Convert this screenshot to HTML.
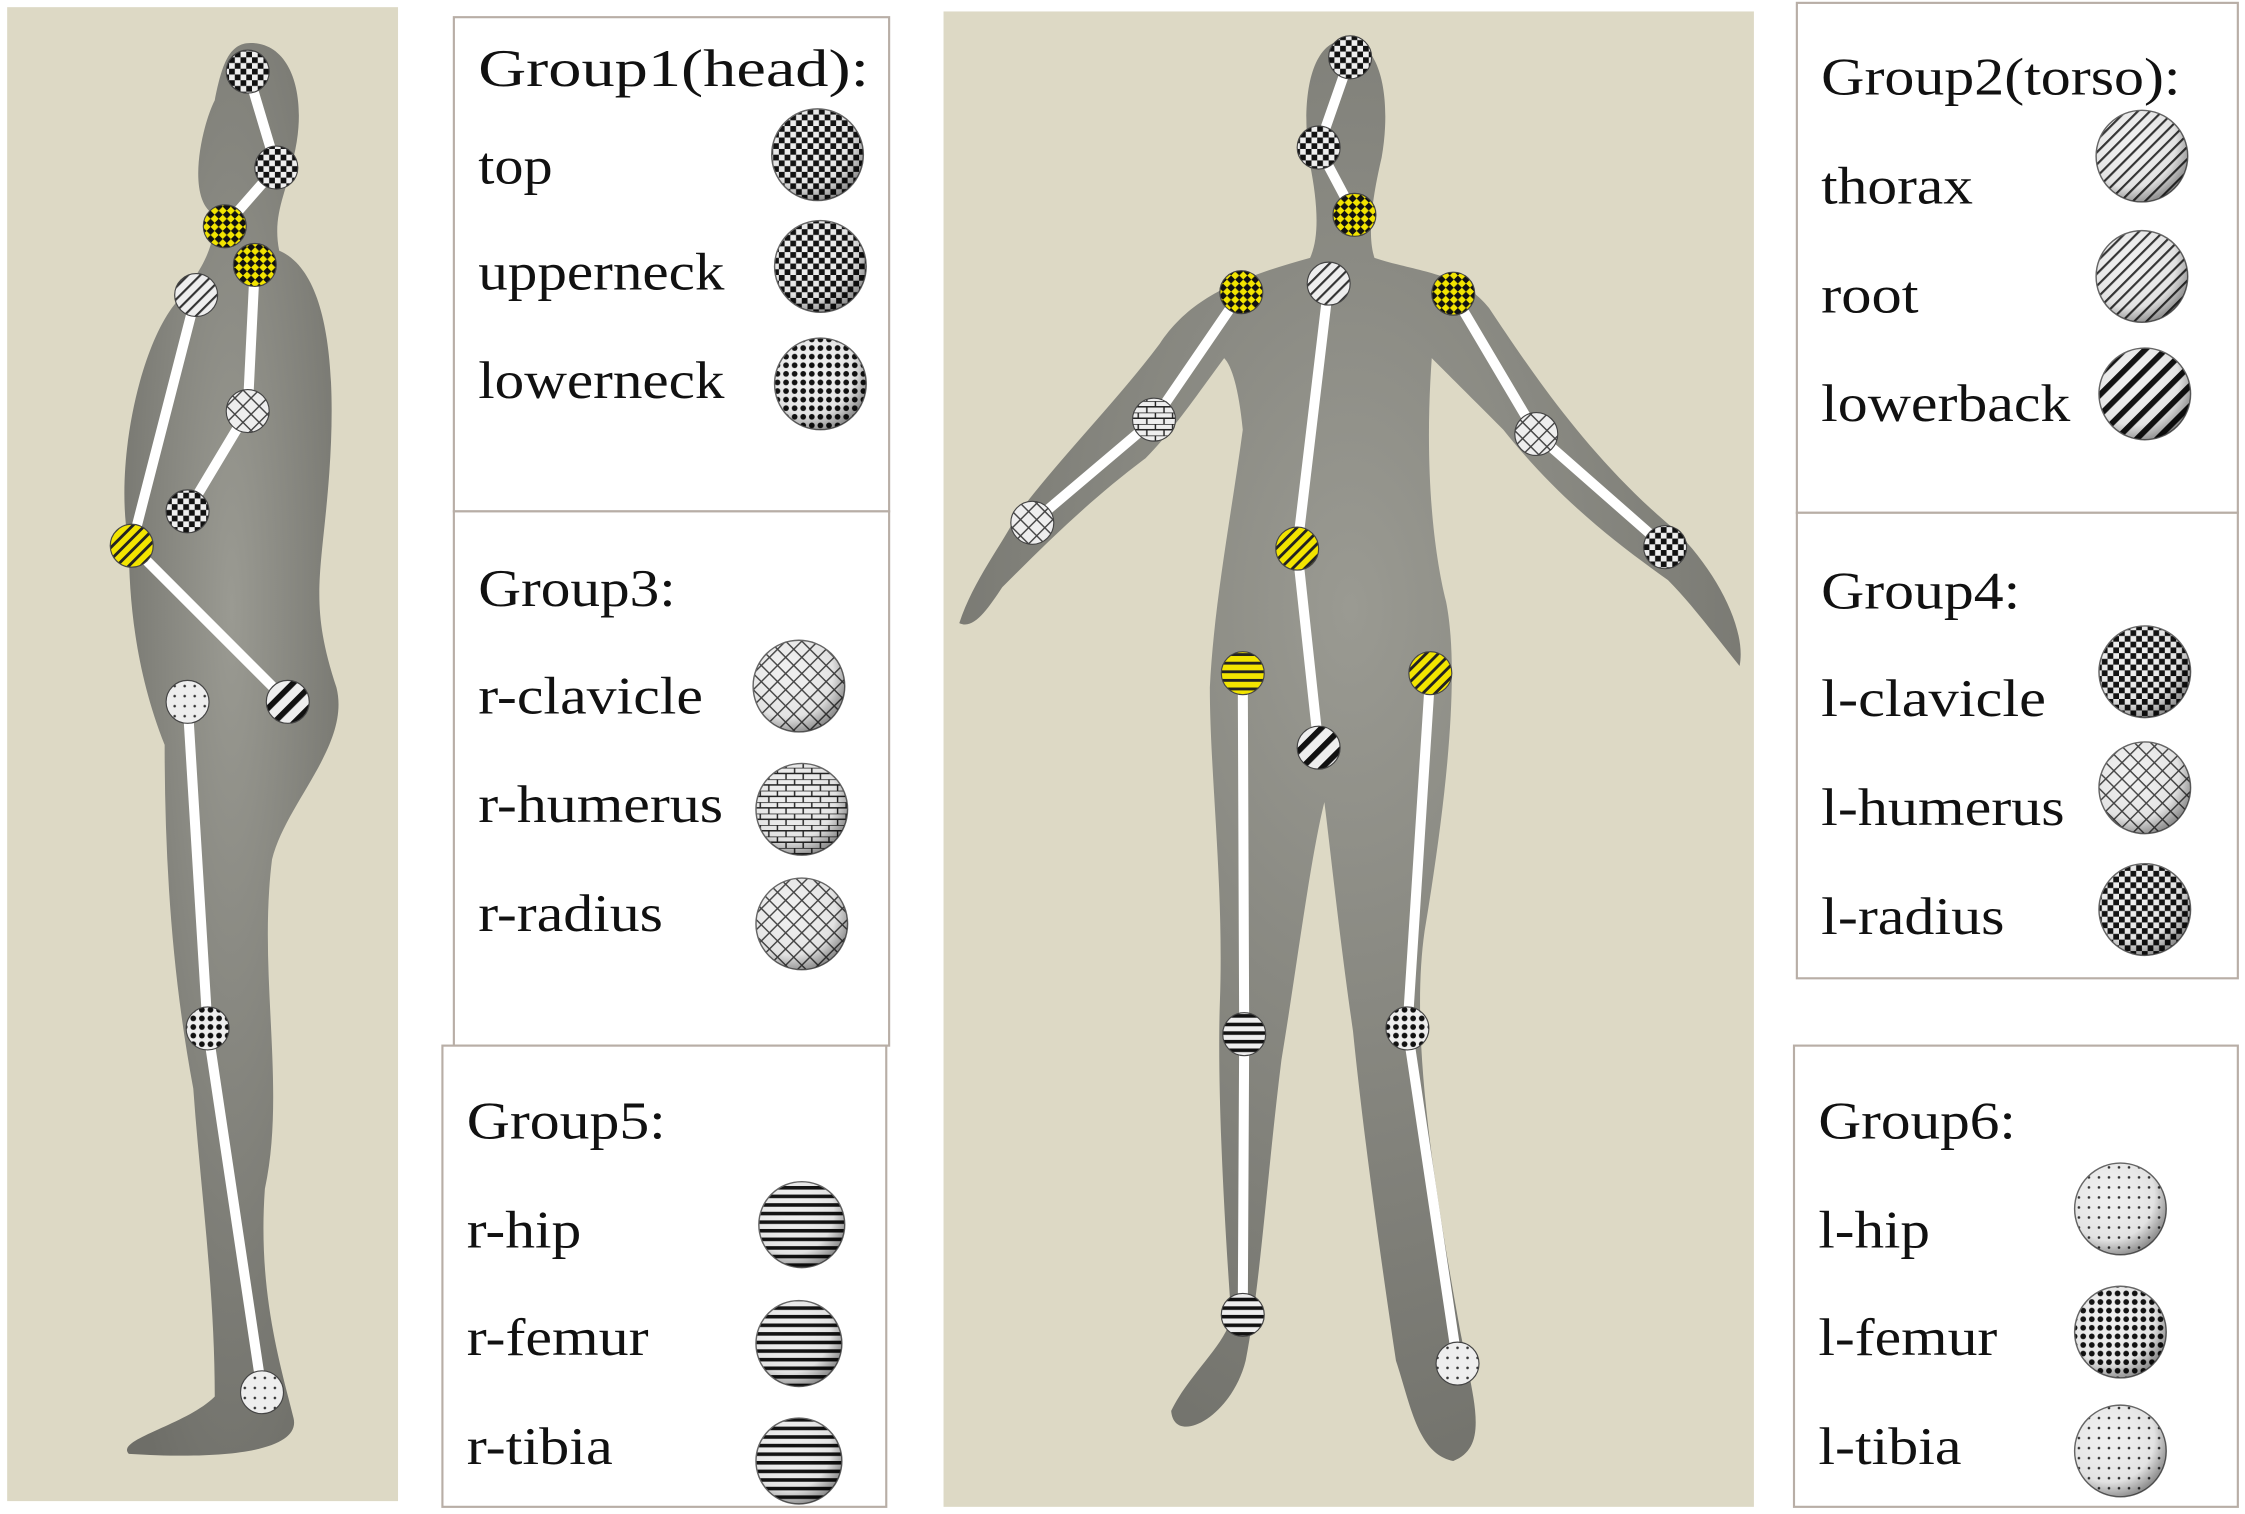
<!DOCTYPE html>
<html><head><meta charset="utf-8"><style>
html,body{margin:0;padding:0;background:#fff;}
svg{display:block}
text{font-family:"Liberation Serif",serif;fill:#111}
</style></head><body>
<svg width="2245" height="1514" viewBox="0 0 1568 1057" preserveAspectRatio="none">
<defs>
<radialGradient id="shade" cx="0.38" cy="0.35" r="0.7"><stop offset="0" stop-color="#fff" stop-opacity="0"/><stop offset="0.7" stop-color="#000" stop-opacity="0.05"/><stop offset="1" stop-color="#000" stop-opacity="0.45"/></radialGradient>
<radialGradient id="bodyg" cx="0.5" cy="0.4" r="0.7"><stop offset="0" stop-color="#9a9a92"/><stop offset="1" stop-color="#6e6e68"/></radialGradient>
<pattern id="p-dots" width="6" height="6" patternUnits="userSpaceOnUse"><rect width="6" height="6" fill="#eee"/><circle cx="3" cy="3" r="2" fill="#111"/></pattern>
<pattern id="p-check" width="8" height="8" patternUnits="userSpaceOnUse"><rect width="8" height="8" fill="#eee"/><rect width="4" height="4" fill="#111"/><rect x="4" y="4" width="4" height="4" fill="#111"/></pattern>
<pattern id="p-diag" width="6" height="6" patternUnits="userSpaceOnUse" patternTransform="rotate(45)"><rect width="6" height="6" fill="#eee"/><rect width="1.5" height="6" fill="#333"/></pattern>
<pattern id="p-diagw" width="10" height="10" patternUnits="userSpaceOnUse" patternTransform="rotate(45)"><rect width="10" height="10" fill="#eee"/><rect width="4" height="10" fill="#111"/></pattern>
<pattern id="p-horiz" width="6" height="6" patternUnits="userSpaceOnUse"><rect width="6" height="6" fill="#eee"/><rect width="6" height="2.5" fill="#111"/></pattern>
<pattern id="p-grid" width="8" height="8" patternUnits="userSpaceOnUse" patternTransform="rotate(45)"><rect width="8" height="8" fill="#eee"/><rect width="1" height="8" fill="#444"/><rect width="8" height="1" fill="#444"/></pattern>
<pattern id="p-brick" width="12" height="8" patternUnits="userSpaceOnUse"><rect width="12" height="8" fill="#eee"/><path d="M0 0H12M0 4H12M3 0V4M9 4V8" stroke="#222" stroke-width="1"/></pattern>
<pattern id="p-sparse" width="7" height="7" patternUnits="userSpaceOnUse"><rect width="7" height="7" fill="#eee"/><circle cx="3" cy="3" r="0.9" fill="#333"/></pattern>
<pattern id="p-ydiag" width="6" height="6" patternUnits="userSpaceOnUse" patternTransform="rotate(45)"><rect width="6" height="6" fill="#f2e400"/><rect width="2" height="6" fill="#222"/></pattern>
<pattern id="p-ycheck" width="8" height="8" patternUnits="userSpaceOnUse" patternTransform="rotate(45)"><rect width="8" height="8" fill="#f2e400"/><rect width="4" height="4" fill="#111"/><rect x="4" y="4" width="4" height="4" fill="#111"/></pattern>
<pattern id="p-yhoriz" width="6" height="6" patternUnits="userSpaceOnUse"><rect width="6" height="6" fill="#f2e400"/><rect width="6" height="2" fill="#222"/></pattern>
</defs>
<rect width="1568" height="1057" fill="#fff"/>

<g>
<rect x="5" y="5" width="273" height="1043" fill="#ddd9c5"/>
<path d="M175 30 C205 30 215 70 205 110 C200 135 190 150 195 175 C230 190 235 260 230 330 C225 400 215 420 235 480 C245 520 200 560 190 600 C180 680 200 760 185 830 C180 900 195 950 205 990 C210 1010 170 1020 90 1015 C80 1005 130 995 150 975 C150 900 140 830 135 760 C120 680 115 600 115 520 C95 470 90 420 90 380 C80 330 95 250 120 215 C140 190 150 175 150 150 C130 140 140 90 150 70 C155 45 160 30 175 30Z" fill="url(#bodyg)"/>
</g>

<g>
<rect x="659" y="8" width="566" height="1044" fill="#ddd9c5"/>
<path d="M940 28 C965 28 972 70 965 110 C958 140 955 165 960 180 C990 190 1020 190 1040 215 C1070 260 1110 320 1170 370 C1200 400 1220 440 1215 465 C1195 440 1180 420 1165 405 C1130 380 1090 350 1050 300 C1030 280 1010 260 1000 250 C995 320 1000 380 1010 420 C1020 470 1010 560 995 650 C985 720 1000 820 1020 930 C1030 980 1040 1010 1015 1020 C990 1015 985 980 975 950 C960 850 950 770 945 720 C935 650 930 600 925 560 C915 600 905 680 895 740 C885 820 880 900 870 950 C860 990 820 1010 818 985 C830 960 855 940 860 920 C855 850 850 760 852 700 C855 620 845 540 845 480 C848 420 860 360 868 300 C865 270 860 255 855 250 C840 270 820 300 800 320 C760 350 730 380 700 410 C690 425 680 440 670 435 C680 405 700 380 710 360 C740 320 780 280 810 240 C830 210 860 195 915 180 C922 165 920 140 915 115 C908 70 915 28 940 28Z" fill="url(#bodyg)"/>
</g>

<g stroke="#fff" stroke-width="7" fill="none" stroke-linecap="round" stroke-linejoin="round">
<polyline points="173,50 193,117 157,158"/>
<polyline points="178,185 173,287 131,357"/>
<polyline points="137,206 92,381 201,490"/>
<polyline points="131,490 145,718 183,972"/>
<polyline points="943,40 921,103 946,150"/>
<polyline points="928,198 906,383 921,522"/>
<polyline points="867,204 806,293 721,365"/>
<polyline points="1015,205 1073,303 1163,382"/>
<polyline points="868,470 869,722 868,918"/>
<polyline points="999,470 983,718 1018,952"/>
</g>

<g stroke="#444" stroke-width="0.8">
<circle cx="173" cy="50" r="15" fill="url(#p-check)"/>
<circle cx="193" cy="117" r="15" fill="url(#p-check)"/>
<circle cx="157" cy="158" r="15" fill="url(#p-ycheck)"/>
<circle cx="178" cy="185" r="15" fill="url(#p-ycheck)"/>
<circle cx="137" cy="206" r="15" fill="url(#p-diag)"/>
<circle cx="173" cy="287" r="15" fill="url(#p-grid)"/>
<circle cx="131" cy="357" r="15" fill="url(#p-check)"/>
<circle cx="92" cy="381" r="15" fill="url(#p-ydiag)"/>
<circle cx="201" cy="490" r="15" fill="url(#p-diagw)"/>
<circle cx="131" cy="490" r="15" fill="url(#p-sparse)"/>
<circle cx="145" cy="718" r="15" fill="url(#p-dots)"/>
<circle cx="183" cy="972" r="15" fill="url(#p-sparse)"/>
<circle cx="943" cy="40" r="15" fill="url(#p-check)"/>
<circle cx="921" cy="103" r="15" fill="url(#p-check)"/>
<circle cx="946" cy="150" r="15" fill="url(#p-ycheck)"/>
<circle cx="928" cy="198" r="15" fill="url(#p-diag)"/>
<circle cx="867" cy="204" r="15" fill="url(#p-ycheck)"/>
<circle cx="806" cy="293" r="15" fill="url(#p-brick)"/>
<circle cx="721" cy="365" r="15" fill="url(#p-grid)"/>
<circle cx="1015" cy="205" r="15" fill="url(#p-ycheck)"/>
<circle cx="1073" cy="303" r="15" fill="url(#p-grid)"/>
<circle cx="1163" cy="382" r="15" fill="url(#p-check)"/>
<circle cx="906" cy="383" r="15" fill="url(#p-ydiag)"/>
<circle cx="868" cy="470" r="15" fill="url(#p-yhoriz)"/>
<circle cx="921" cy="522" r="15" fill="url(#p-diagw)"/>
<circle cx="999" cy="470" r="15" fill="url(#p-ydiag)"/>
<circle cx="869" cy="722" r="15" fill="url(#p-horiz)"/>
<circle cx="983" cy="718" r="15" fill="url(#p-dots)"/>
<circle cx="868" cy="918" r="15" fill="url(#p-horiz)"/>
<circle cx="1018" cy="952" r="15" fill="url(#p-sparse)"/>
</g>

<g stroke="#b8aea6" stroke-width="1.5" fill="#fff">
<rect x="317" y="12" width="304" height="345"/>
<rect x="317" y="357" width="304" height="373"/>
<rect x="309" y="730" width="310" height="322"/>
<rect x="1255" y="2" width="308" height="356"/>
<rect x="1255" y="358" width="308" height="325"/>
<rect x="1253" y="730" width="310" height="322"/>
</g>

<g font-size="37">
<text x="334" y="60" textLength="273" lengthAdjust="spacingAndGlyphs">Group1(head):</text>
<text x="334" y="128" textLength="52" lengthAdjust="spacingAndGlyphs">top</text>
<text x="334" y="202" textLength="172" lengthAdjust="spacingAndGlyphs">upperneck</text>
<text x="334" y="278" textLength="172" lengthAdjust="spacingAndGlyphs">lowerneck</text>
<text x="334" y="423" textLength="138" lengthAdjust="spacingAndGlyphs">Group3:</text>
<text x="334" y="498" textLength="157" lengthAdjust="spacingAndGlyphs">r-clavicle</text>
<text x="334" y="574" textLength="171" lengthAdjust="spacingAndGlyphs">r-humerus</text>
<text x="334" y="650" textLength="129" lengthAdjust="spacingAndGlyphs">r-radius</text>
<text x="326" y="795" textLength="139" lengthAdjust="spacingAndGlyphs">Group5:</text>
<text x="326" y="871" textLength="80" lengthAdjust="spacingAndGlyphs">r-hip</text>
<text x="326" y="946" textLength="127" lengthAdjust="spacingAndGlyphs">r-femur</text>
<text x="326" y="1022" textLength="102" lengthAdjust="spacingAndGlyphs">r-tibia</text>
<text x="1272" y="66" textLength="251" lengthAdjust="spacingAndGlyphs">Group2(torso):</text>
<text x="1272" y="142" textLength="106" lengthAdjust="spacingAndGlyphs">thorax</text>
<text x="1272" y="218" textLength="68" lengthAdjust="spacingAndGlyphs">root</text>
<text x="1272" y="294" textLength="174" lengthAdjust="spacingAndGlyphs">lowerback</text>
<text x="1272" y="425" textLength="139" lengthAdjust="spacingAndGlyphs">Group4:</text>
<text x="1272" y="500" textLength="157" lengthAdjust="spacingAndGlyphs">l-clavicle</text>
<text x="1272" y="576" textLength="170" lengthAdjust="spacingAndGlyphs">l-humerus</text>
<text x="1272" y="652" textLength="128" lengthAdjust="spacingAndGlyphs">l-radius</text>
<text x="1270" y="795" textLength="138" lengthAdjust="spacingAndGlyphs">Group6:</text>
<text x="1270" y="871" textLength="78" lengthAdjust="spacingAndGlyphs">l-hip</text>
<text x="1270" y="946" textLength="125" lengthAdjust="spacingAndGlyphs">l-femur</text>
<text x="1270" y="1022" textLength="100" lengthAdjust="spacingAndGlyphs">l-tibia</text>
</g>

<g stroke="#666" stroke-width="1">
<circle cx="571" cy="108" r="32" fill="url(#p-check)"/>
<circle cx="573" cy="186" r="32" fill="url(#p-check)"/>
<circle cx="573" cy="268" r="32" fill="url(#p-dots)"/>
<circle cx="558" cy="479" r="32" fill="url(#p-grid)"/>
<circle cx="560" cy="565" r="32" fill="url(#p-brick)"/>
<circle cx="560" cy="645" r="32" fill="url(#p-grid)"/>
<circle cx="560" cy="855" r="30" fill="url(#p-horiz)"/>
<circle cx="558" cy="938" r="30" fill="url(#p-horiz)"/>
<circle cx="558" cy="1020" r="30" fill="url(#p-horiz)"/>
<circle cx="1496" cy="109" r="32" fill="url(#p-diag)"/>
<circle cx="1496" cy="193" r="32" fill="url(#p-diag)"/>
<circle cx="1498" cy="275" r="32" fill="url(#p-diagw)"/>
<circle cx="1498" cy="469" r="32" fill="url(#p-check)"/>
<circle cx="1498" cy="550" r="32" fill="url(#p-grid)"/>
<circle cx="1498" cy="635" r="32" fill="url(#p-check)"/>
<circle cx="1481" cy="844" r="32" fill="url(#p-sparse)"/>
<circle cx="1481" cy="930" r="32" fill="url(#p-dots)"/>
<circle cx="1481" cy="1013" r="32" fill="url(#p-sparse)"/>
</g>
<g fill="url(#shade)">
<circle cx="571" cy="108" r="32"/><circle cx="573" cy="186" r="32"/><circle cx="573" cy="268" r="32"/>
<circle cx="558" cy="479" r="32"/><circle cx="560" cy="565" r="32"/><circle cx="560" cy="645" r="32"/>
<circle cx="560" cy="855" r="30"/><circle cx="558" cy="938" r="30"/><circle cx="558" cy="1020" r="30"/>
<circle cx="1496" cy="109" r="32"/><circle cx="1496" cy="193" r="32"/><circle cx="1498" cy="275" r="32"/>
<circle cx="1498" cy="469" r="32"/><circle cx="1498" cy="550" r="32"/><circle cx="1498" cy="635" r="32"/>
<circle cx="1481" cy="844" r="32"/><circle cx="1481" cy="930" r="32"/><circle cx="1481" cy="1013" r="32"/>
</g>
</svg>
</body></html>
